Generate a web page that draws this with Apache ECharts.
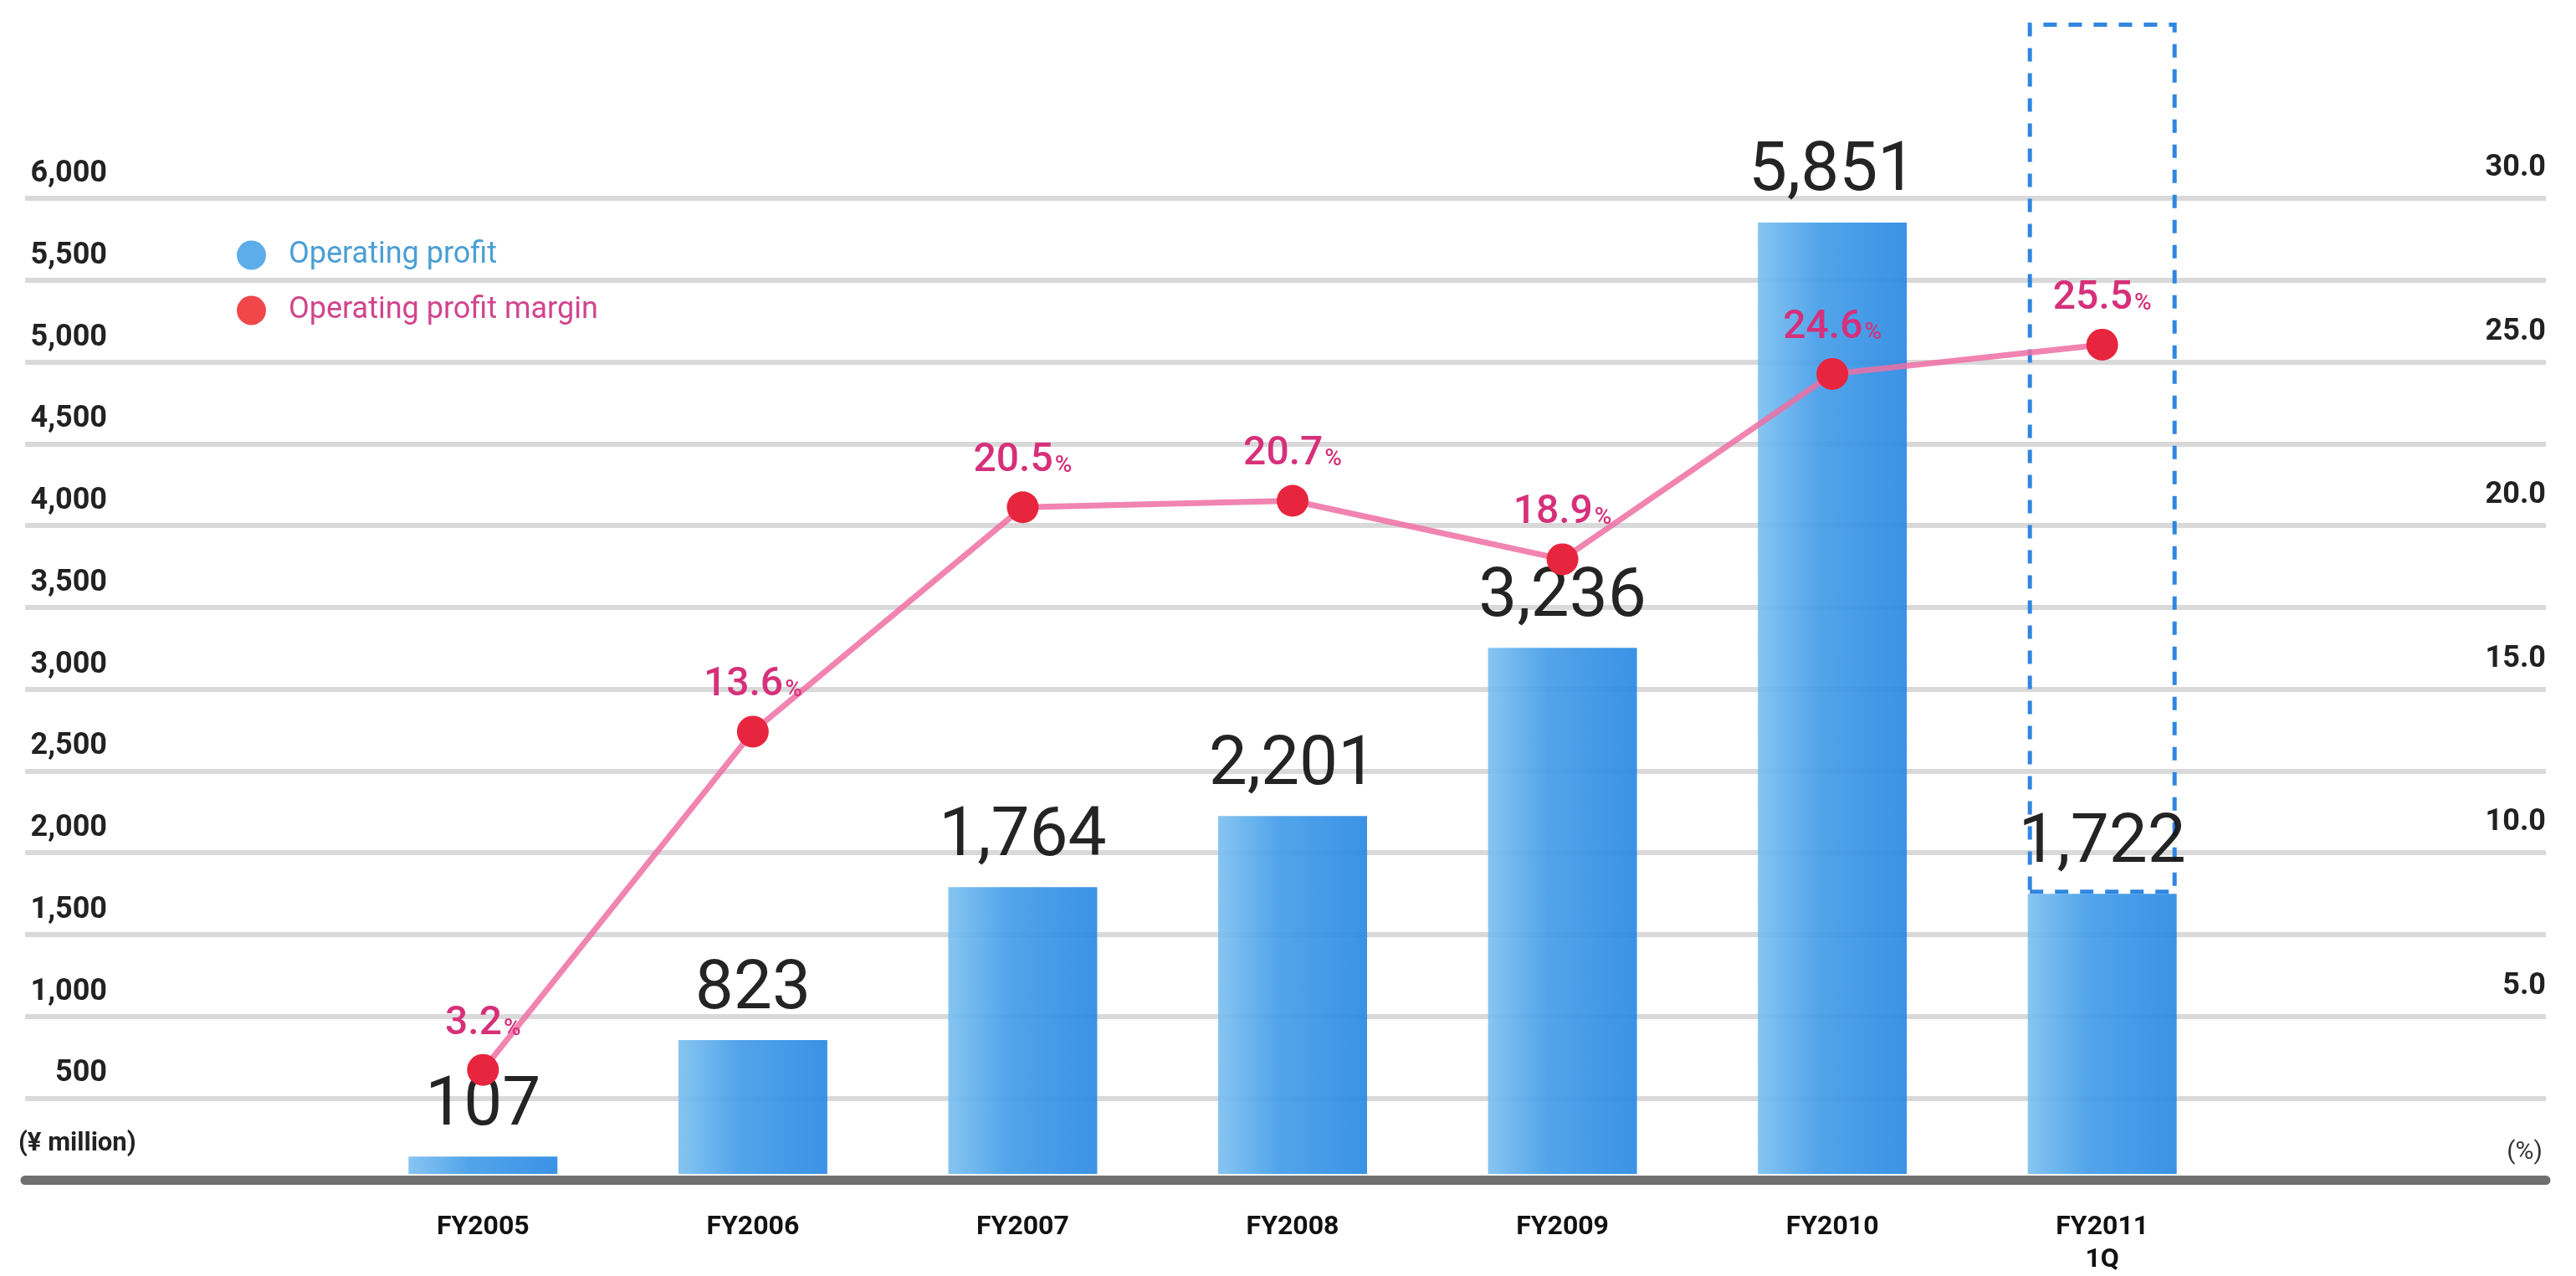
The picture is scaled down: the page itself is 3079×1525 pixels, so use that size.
<!DOCTYPE html>
<html>
<head>
<meta charset="utf-8">
<script src="https://cdn.jsdelivr.net/npm/echarts@6/dist/echarts.min.js"></script>
<style>
  html, body { margin: 0; padding: 0; background: #fff; }
  #chart { width: 3079px; height: 1525px; }
</style>
</head>
<body>
<div id="chart"></div>
<script>
// data
var categories = ['FY2005', 'FY2006', 'FY2007', 'FY2008', 'FY2009', 'FY2010', 'FY2011\n1Q'];
var profit = [107, 823, 1764, 2201, 3236, 5851, 1722];       // ¥ million
var margin = [3.2, 13.6, 20.5, 20.7, 18.9, 24.6, 25.5];     // %
var outlineTop = [null, null, null, null, null, null, 7080]; // top of the dashed box (¥ million)

var chart = echarts.init(document.getElementById('chart'));

// dashed box sits on top of the bar, so stack only the remainder
var outlineVals = outlineTop.map(function (t, i) {
    return t == null ? null : t - profit[i];
});

function comma(v) {
    return String(v).replace(/\B(?=(\d{3})+(?!\d))/g, ',');
}

var option = {
    backgroundColor: '#fff',
    animation: false,
    legend: {
        orient: 'vertical',
        left: 278,
        top: 282,
        itemWidth: 35,
        itemHeight: 35,
        itemGap: 30,
        icon: 'circle',
        textStyle: { fontFamily: 'Roboto', fontSize: 36, padding: [0, 0, 0, 22] },
        data: [
            { name: 'Operating profit', itemStyle: { color: '#4fa6e8' }, textStyle: { color: '#4a9fd4' } },
            { name: 'Operating profit margin', itemStyle: { color: '#f0474a' }, textStyle: { color: '#d1458d' } }
        ]
    },
    graphic: [
        {
            type: 'text', left: 22, top: 1352,
            style: { text: '(¥ million)', font: 'bold 31px Roboto', fill: '#222' }
        },
        {
            type: 'text', right: 40, top: 1362,
            style: { text: '(%)', font: '30px Roboto', fill: '#333' }
        }
    ],
    grid: [
        // full-width grid: ruled lines, axis labels, baseline
        { left: 30, right: 36, top: 237, bottom: 115 },
        // plot grid for bars and line
        { left: 416, right: 405, top: 237, bottom: 115 }
    ],
    xAxis: [
        {
            gridIndex: 0, type: 'value', min: 0, max: 1,
            axisLine: { show: true, lineStyle: { color: '#6f6f6f', width: 11 } },
            axisTick: { show: false }, axisLabel: { show: false }, splitLine: { show: false }
        },
        {
            gridIndex: 1, type: 'category', data: categories,
            axisLine: { show: false }, axisTick: { show: false },
            axisLabel: {
                margin: 44, color: '#111', fontFamily: 'Roboto', fontWeight: 'bold',
                fontSize: 32, lineHeight: 39
            }
        }
    ],
    yAxis: [
        {
            gridIndex: 0, type: 'value', min: 0, max: 6000, interval: 500, position: 'left',
            axisLine: { show: false }, axisTick: { show: false },
            axisLabel: {
                inside: true, margin: 98, align: 'right', verticalAlign: 'bottom',
                padding: [0, 0, 11, 0],
                color: '#222', fontFamily: 'Roboto', fontWeight: 'bold', fontSize: 36,
                formatter: function (v) { return v === 0 ? '' : comma(v); }
            },
            splitLine: { show: true, lineStyle: { color: '#d9d9d9', width: 6 } }
        },
        {
            gridIndex: 0, type: 'value', min: 0, max: 30, interval: 5, position: 'right',
            axisLine: { show: false }, axisTick: { show: false },
            axisLabel: {
                inside: true, margin: 0, align: 'right', verticalAlign: 'bottom',
                padding: [0, 0, 18, 0],
                color: '#222', fontFamily: 'Roboto', fontWeight: 'bold', fontSize: 36,
                formatter: function (v) { return v === 0 ? '' : v.toFixed(1); }
            },
            splitLine: { show: false }
        },
        {
            gridIndex: 1, type: 'value', min: 0, max: 6000, interval: 500, show: false
        },
        {
            gridIndex: 1, type: 'value', min: 0, max: 30, interval: 5, show: false
        }
    ],
    series: [
        {
            name: 'Operating profit',
            type: 'bar',
            xAxisIndex: 1, yAxisIndex: 2,
            stack: 'op',
            barWidth: 178,
            z: 2,
            itemStyle: {
                opacity: 0.92,
                color: new echarts.graphic.LinearGradient(0, 0, 1, 0, [
                    { offset: 0, color: '#7cc0f1' },
                    { offset: 0.4, color: '#449de8' },
                    { offset: 1, color: '#2a89e3' }
                ])
            },
            label: {
                show: true, position: 'top', distance: 18,
                color: '#111', fontFamily: 'Roboto', fontSize: 82,
                formatter: function (p) { return comma(p.value); }
            },
            data: profit
        },
        {
            name: 'outline',
            type: 'bar',
            xAxisIndex: 1, yAxisIndex: 2,
            stack: 'op',
            barWidth: 178,
            clip: false,
            silent: true,
            z: 1,
            itemStyle: {
                color: 'rgba(0,0,0,0)',
                borderColor: '#2f86e0',
                borderWidth: 5,
                borderType: [16, 14]
            },
            data: outlineVals
        },
        {
            name: 'Operating profit margin',
            type: 'line',
            xAxisIndex: 1, yAxisIndex: 3,
            z: 5,
            symbol: 'circle',
            symbolSize: 38,
            itemStyle: { color: '#e8253f' },
            lineStyle: { color: '#ef6ea3', width: 7, opacity: 0.85 },
            label: {
                show: true, position: 'top', distance: 12,
                formatter: function (p) { return '{v|' + p.value.toFixed(1) + '}{p|%}'; },
                rich: {
                    v: { fontFamily: 'Roboto', fontWeight: 500, fontSize: 48, color: '#d6307a' },
                    p: { fontFamily: 'Roboto', fontWeight: 500, fontSize: 28, color: '#d6307a', padding: [12, 0, 0, 2] }
                }
            },
            data: margin
        }
    ]
};

chart.setOption(option);
window.addEventListener('resize', function () {
    chart.resize();
});
</script>
</body>
</html>
